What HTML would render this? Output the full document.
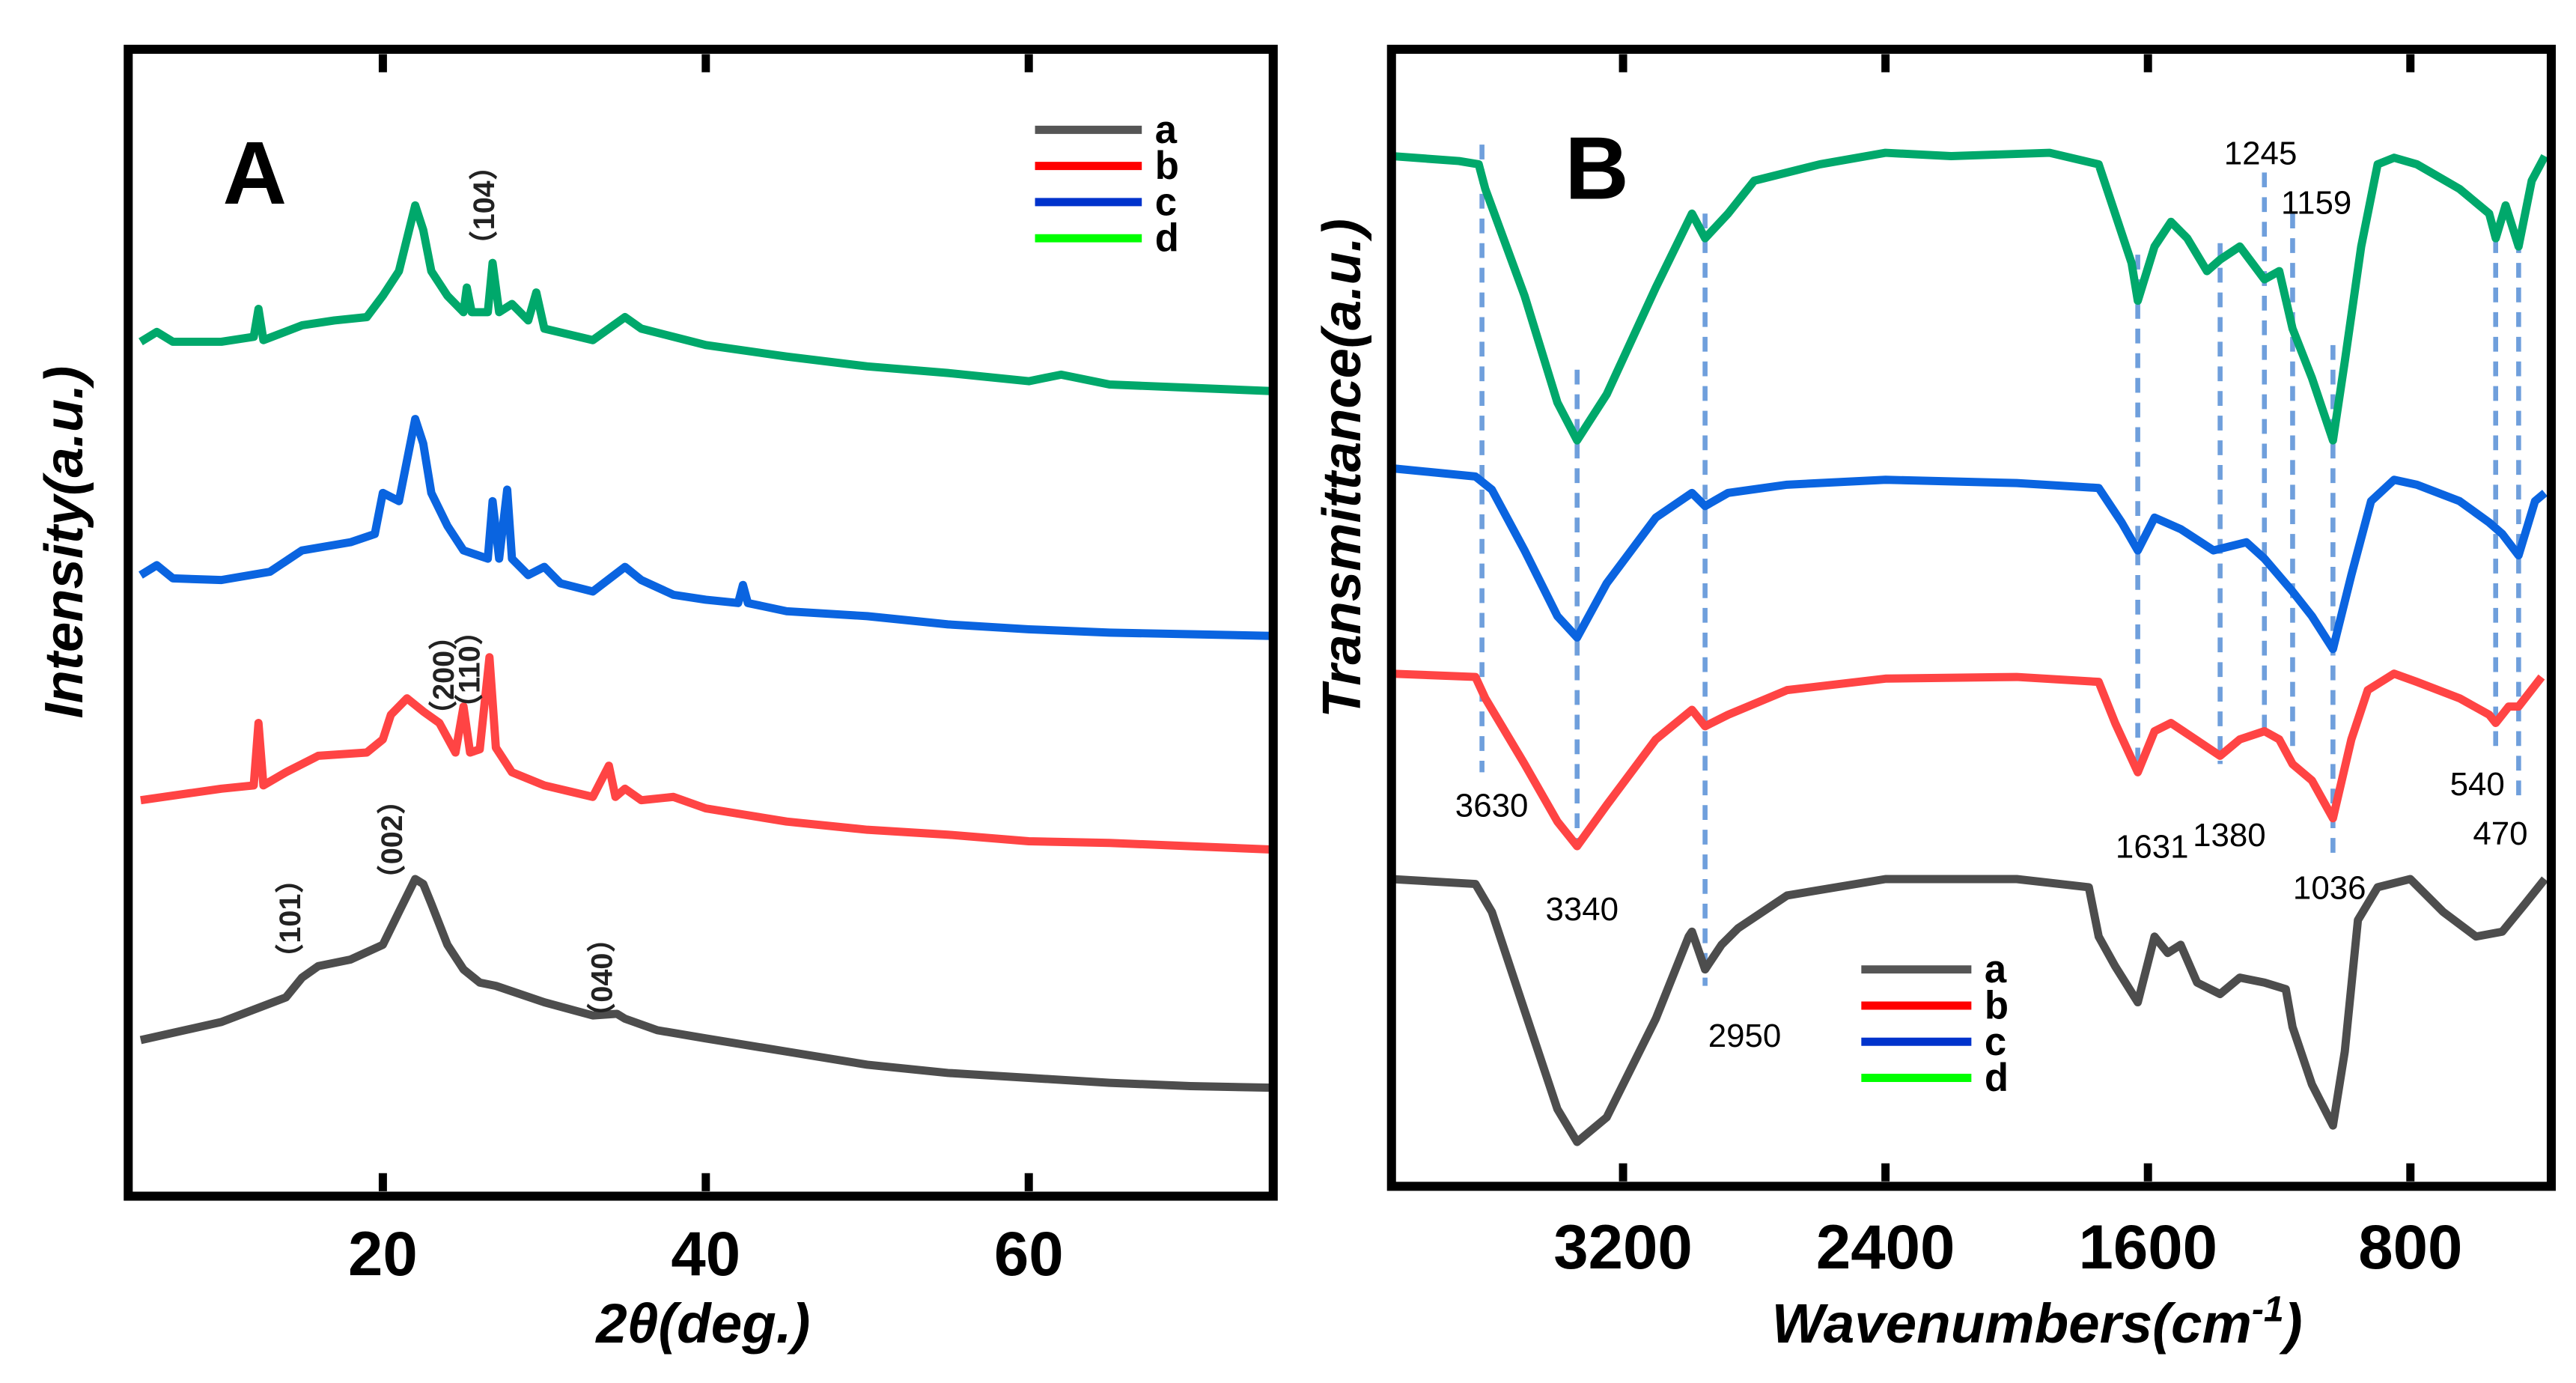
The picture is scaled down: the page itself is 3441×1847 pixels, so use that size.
<!DOCTYPE html>
<html><head><meta charset="utf-8"><style>
html,body{margin:0;padding:0;background:#fff;}
svg{display:block;font-family:"Liberation Sans",Arial,sans-serif;}
</style></head><body>
<svg id="fig" width="3441" height="1847" viewBox="0 0 1568 841.7" xmlns="http://www.w3.org/2000/svg">
<rect width="1568" height="842" fill="#fff"/>
<g id="pA"></g>
<g id="pB"></g>
</svg>
<script>
// ---------- Panel A data (XRD) ----------
const xrdSeriesNames = ['a','b','c','d'];
const xrdColors = ['#4d4d4d','#ff4444','#0a64e0','#00a86b'];
const xrdTicks = [20,40,60];
const xrdA_x = [5,10,14,15,16,18,20,21,22,22.5,23,24,25,26,27,30,33,34.5,35,37,40,45,50,55,60,65,70,75];
const xrdA_y = [97,108,123,135,142,146,155,175,195,192,180,155,140,132,130,120,112,113,110,103,98,90,82,77,74,71,69,68];
const xrdB_x = [5,10,12,12.3,12.6,14,16,19,20,20.5,21.5,22.5,23.5,24.5,25,25.4,26,26.6,27,28,30,33,34,34.4,35,36,38,40,45,50,55,60,65,70,75];
const xrdB_y = [243,250,252,290,252,260,270,272,280,295,305,297,290,272,300,272,274,330,275,260,252,245,264,245,250,243,245,238,230,225,222,218,217,215,213];
const xrdC_x = [5,6,7,10,13,15,18,19.5,20,21,22,22.5,23,24,25,26.5,26.8,27.2,27.7,28,29,30,31,33,35,36,38,40,42,42.3,42.6,45,50,55,60,65,70,75];
const xrdC_y = [380,386,378,377,382,395,400,405,430,425,475,460,430,410,395,390,425,390,432,390,380,385,375,370,385,377,368,365,363,374,363,358,355,350,347,345,344,343];
const xrdD_x = [5,6,7,10,12,12.3,12.6,15,17,19,20,21,22,22.5,23,24,25,25.2,25.5,26.5,26.8,27.2,28,29,29.5,30,33,35,36,38,40,45,50,55,60,62,65,70,75];
const xrdD_y = [522,528,522,522,525,542,523,532,535,537,550,565,605,590,565,550,540,555,540,540,570,540,545,535,552,530,523,537,530,525,520,513,507,503,498,502,496,494,492];
const xrdPeakLabels = ['（101）','（002）','（040）','（200）','（110）','（104）'];
const xrdPeakPos = [15.5,21.8,34.8,25,26.6,27.2];

// ---------- Panel B data (FTIR) ----------
const ftirTicks = [3200,2400,1600,800];
const ftA_x = [3906,3650,3600,3500,3400,3340,3250,3100,3000,2990,2950,2900,2850,2700,2400,2000,1780,1750,1700,1631,1580,1540,1500,1450,1380,1320,1245,1180,1159,1100,1036,1000,960,900,800,700,600,520,450,390];
const ftA_y = [195,192,175,115,55,35,50,110,160,163,140,155,165,185,195,195,190,160,142,120,160,150,155,132,125,135,132,128,105,70,45,90,170,190,195,175,160,163,180,195];
const ftB_x = [3906,3650,3620,3500,3400,3340,3250,3100,2990,2950,2880,2700,2400,2000,1750,1700,1631,1580,1530,1380,1320,1245,1200,1159,1100,1036,980,930,850,780,650,560,540,500,470,400];
const ftB_y = [320,318,305,265,230,215,240,280,298,288,295,310,317,318,315,290,260,285,290,270,280,285,280,265,255,232,280,310,320,315,305,295,290,300,300,318];
const ftC_x = [3906,3650,3600,3500,3400,3340,3250,3100,2990,2950,2880,2700,2400,2000,1750,1680,1631,1580,1500,1400,1300,1245,1159,1100,1036,980,920,850,780,650,560,520,470,420,390];
const ftC_y = [445,440,432,395,355,342,375,415,430,422,430,435,438,436,433,412,395,415,408,395,400,390,370,355,335,380,425,438,435,425,412,405,392,425,430];
const ftD_x = [3906,3700,3640,3620,3500,3400,3340,3250,3100,2990,2950,2880,2800,2600,2400,2200,1900,1750,1700,1650,1631,1580,1530,1480,1420,1380,1320,1245,1200,1159,1100,1036,1000,950,900,850,780,650,560,540,510,470,430,390];
const ftD_y = [635,632,630,615,550,485,462,490,555,600,585,600,620,630,637,635,637,630,600,570,547,580,595,585,565,572,580,560,565,530,500,462,510,580,630,634,630,615,600,585,605,580,620,635];
const ftirBands = [3630,3340,2950,1631,1380,1245,1159,1036,540,470];
const ftirBandLabels = ['3630','3340','2950','1631','1380','1245','1159','1036','540','470'];

// ---------- helpers ----------
const NS='http://www.w3.org/2000/svg';
function mk(parent,tag,attrs,text){const e=document.createElementNS(NS,tag);for(const k in attrs)e.setAttribute(k,attrs[k]);if(text!==undefined)e.textContent=text;parent.appendChild(e);return e;}

// axis functions
const xA = v => 233 + (v-20)*9.83;
const yA = v => 730 - v;
const xB = w => 960 + (3340-w)*0.1997;
const yB = v => 730 - v;

// ---------- Panel A ----------
const pA=document.getElementById('pA');
const seriesA=[[xrdA_x,xrdA_y],[xrdB_x,xrdB_y],[xrdC_x,xrdC_y],[xrdD_x,xrdD_y]];
seriesA.forEach((s,i)=>{
  const d=s[0].map((x,j)=>(j?'L':'M')+xA(x).toFixed(1)+' '+yA(s[1][j]).toFixed(1)).join(' ');
  const p=mk(pA,'path',{d:d,fill:'none',stroke:xrdColors[i],'stroke-width':5,'stroke-linejoin':'round'});
  
  
});
const fA=mk(pA,'rect',{x:78,y:30,width:697,height:698,fill:'none',stroke:'#000','stroke-width':5.5});


xrdTicks.forEach(t=>{
  const x=xA(t);
  const tk=mk(pA,'path',{d:`M${x} 725V714M${x} 33V44`,stroke:'#000','stroke-width':5});
  
  
  const tl=mk(pA,'text',{x:x,y:776,'text-anchor':'middle','font-size':38,'font-weight':'bold'},String(t));
  
  
});
// peak labels (vertical)
const peakLabelY=[592,544,628,444,440,158];
xrdPeakLabels.forEach((lb,i)=>{
  const x=xA(xrdPeakPos[i])+(i===5?-3:-6);
  const y=peakLabelY[i];
  const t=mk(pA,'text',{x:x,y:y,'font-size':18,'font-weight':'bold',fill:'#222',transform:`rotate(-90 ${x} ${y})`,'font-family':'"Liberation Sans","Noto Sans CJK SC",sans-serif'},lb);
  
  
});
let tA=mk(pA,'text',{x:155,y:124,'text-anchor':'middle','font-size':54,'font-weight':'bold'},'A');


let xtA=mk(pA,'text',{x:428,y:817,'text-anchor':'middle','font-size':34,'font-weight':'bold','font-style':'italic'},'2θ(deg.)');


let ytA=mk(pA,'text',{x:50,y:330,'text-anchor':'middle','font-size':33,'font-weight':'bold','font-style':'italic',transform:'rotate(-90 50 330)'},'Intensity(a.u.)');


const legColors=['#555555','#ff0000','#0033cc','#00ff00'];
xrdSeriesNames.forEach((n,i)=>{
  const y=79+i*22;
  const l=mk(pA,'line',{x1:630,x2:695,y1:y,y2:y,stroke:legColors[i],'stroke-width':5});
  
  
  const t=mk(pA,'text',{x:703,y:y+8,'font-size':24,'font-weight':'bold'},n);
  
  
});

// ---------- Panel B ----------
const pB=document.getElementById('pB');
const bandTop=[88,225,130,155,148,105,130,210,145,145];
const bandBot=[470,515,600,470,465,447,455,525,460,485];
ftirBands.forEach((w,i)=>{
  const x=xB(w);
  const l=mk(pB,'line',{x1:x,x2:x,y1:bandTop[i],y2:bandBot[i],stroke:'#6f9fdc','stroke-width':3,'stroke-dasharray':'9 6'});
  
  
});
const seriesB=[[ftA_x,ftA_y],[ftB_x,ftB_y],[ftC_x,ftC_y],[ftD_x,ftD_y]];
seriesB.forEach((s,i)=>{
  const d=s[0].map((x,j)=>(j?'L':'M')+xB(x).toFixed(1)+' '+yB(s[1][j]).toFixed(1)).join(' ');
  const p=mk(pB,'path',{d:d,fill:'none',stroke:xrdColors[i],'stroke-width':5,'stroke-linejoin':'round'});
  
  
});
const bandLabelPos=[[908,497],[963,560],[1062,637],[1310,522],[1357,515],[1376,100],[1410,130],[1418,547],[1508,484],[1522,514]];
ftirBandLabels.forEach((lb,i)=>{
  const t=mk(pB,'text',{x:bandLabelPos[i][0],y:bandLabelPos[i][1],'text-anchor':'middle','font-size':20},lb);
  
  
});
const fB=mk(pB,'rect',{x:847,y:30,width:706,height:692,fill:'none',stroke:'#000','stroke-width':5.5});


ftirTicks.forEach(t=>{
  const x=xB(t);
  const tk=mk(pB,'path',{d:`M${x} 719V708M${x} 33V44`,stroke:'#000','stroke-width':5});
  
  
  const tl=mk(pB,'text',{x:x,y:772,'text-anchor':'middle','font-size':38,'font-weight':'bold'},String(t));
  
  
});
let tB=mk(pB,'text',{x:972,y:121,'text-anchor':'middle','font-size':54,'font-weight':'bold'},'B');


let xtB=mk(pB,'text',{x:1240,y:817,'text-anchor':'middle','font-size':34,'font-weight':'bold','font-style':'italic'},'Wavenumbers(cm');


mk(xtB,'tspan',{'font-size':22,dy:-13},'-1');
mk(xtB,'tspan',{dy:13},')');
let ytB=mk(pB,'text',{x:828,y:285,'text-anchor':'middle','font-size':33,'font-weight':'bold','font-style':'italic',transform:'rotate(-90 828 285)'},'Transmittance(a.u.)');


xrdSeriesNames.forEach((n,i)=>{
  const y=590+i*22;
  const l=mk(pB,'line',{x1:1133,x2:1200,y1:y,y2:y,stroke:legColors[i],'stroke-width':5});
  
  
  const t=mk(pB,'text',{x:1208,y:y+8,'font-size':24,'font-weight':'bold'},n);
  
  
});
</script>
</body></html>
